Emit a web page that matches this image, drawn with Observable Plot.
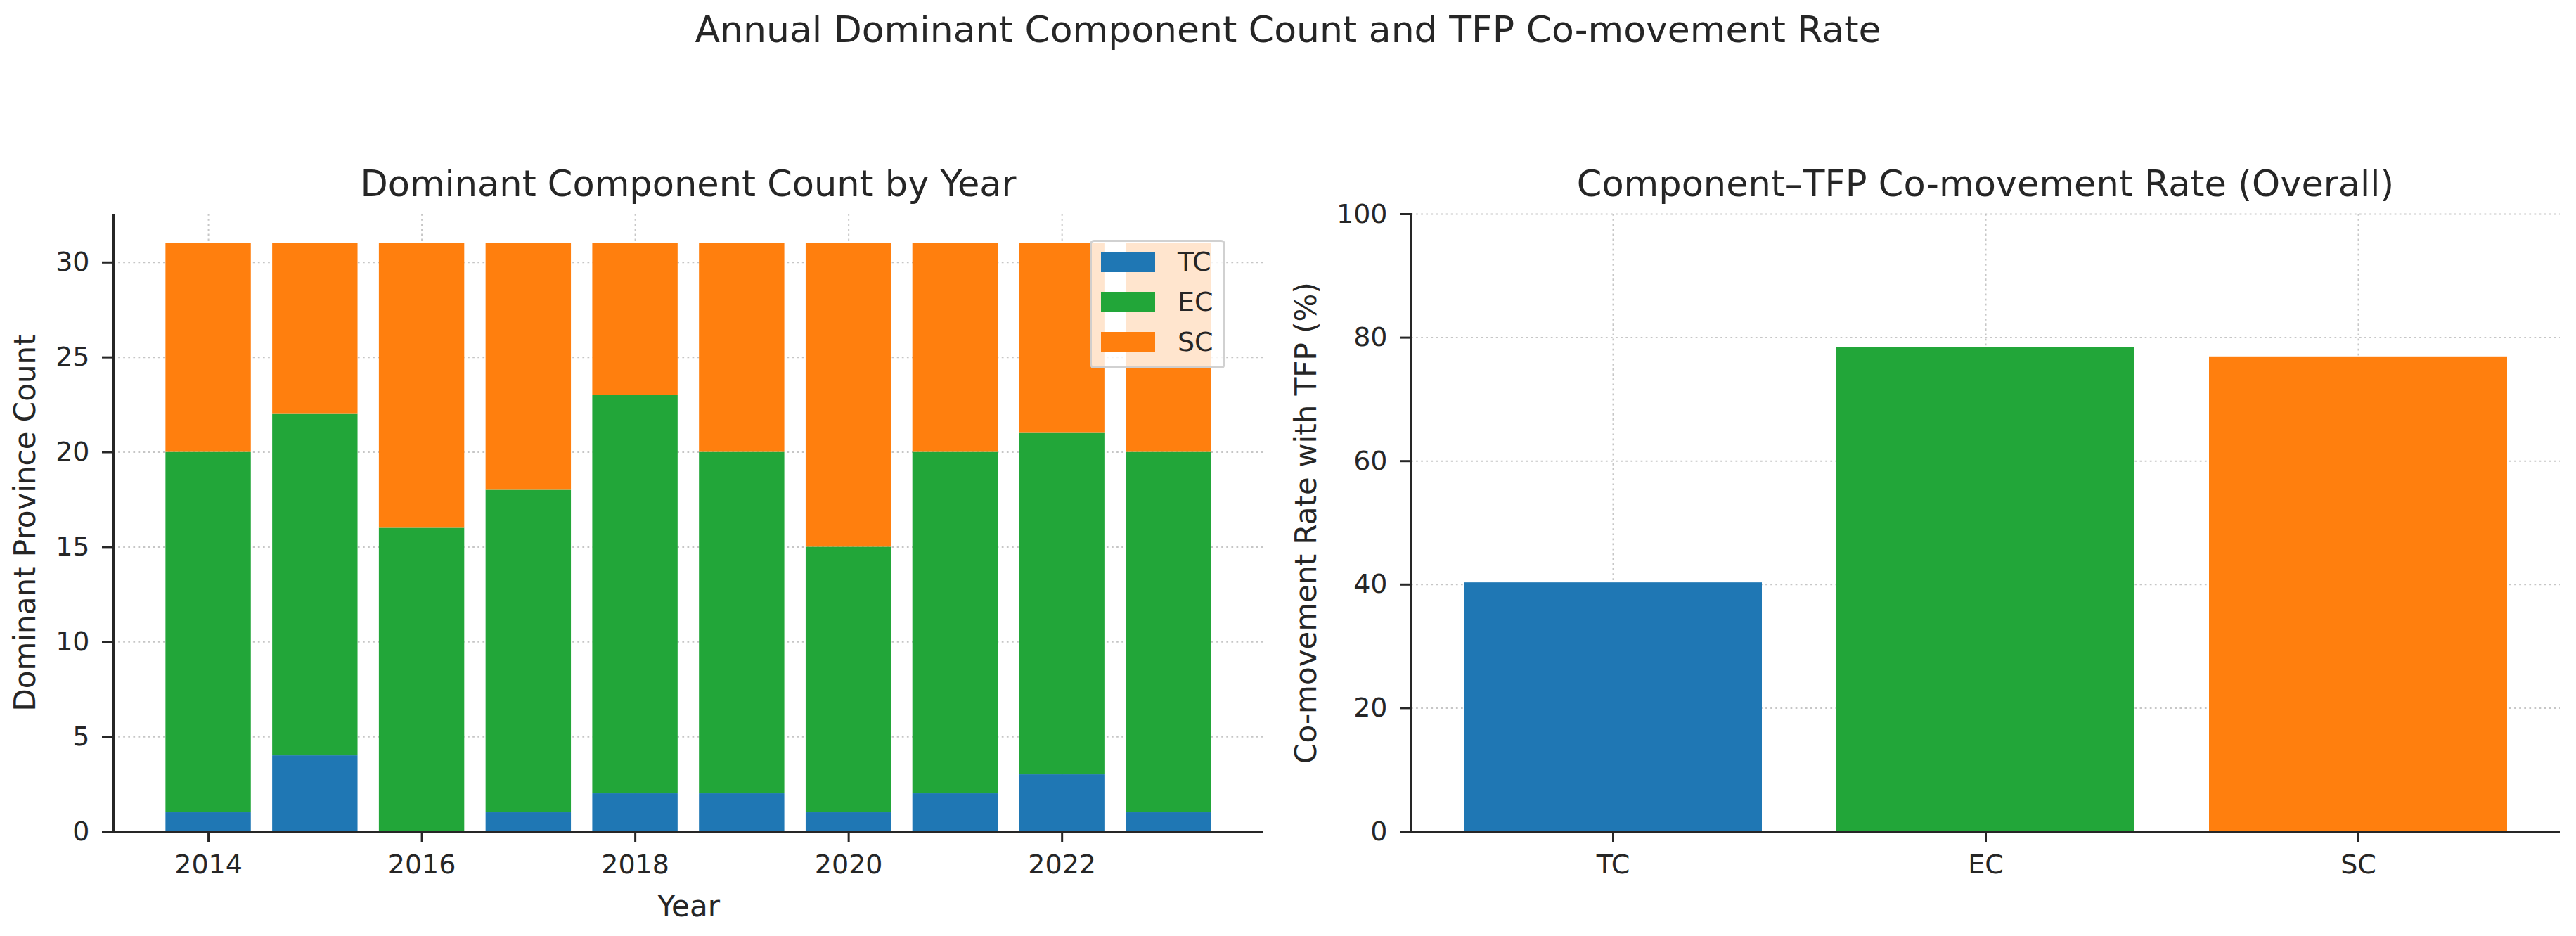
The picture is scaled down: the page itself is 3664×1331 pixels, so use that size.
<!DOCTYPE html>
<html>
<head>
<meta charset="utf-8">
<script src="https://cdn.jsdelivr.net/npm/d3@7"></script>
<script src="https://cdn.jsdelivr.net/npm/@observablehq/plot@0.6"></script>
<style>
  body { margin: 0; background: #fff; font-family: "DejaVu Sans", sans-serif; color: #262626; }
  #fig { position: relative; width: 3664px; height: 1331px; overflow: hidden; }
  .t { position: absolute; white-space: nowrap; transform: translateX(-50%); line-height: 1; }
  #legend { position: absolute; left: 1550px; top: 341px; width: 187px; height: 177px;
    border: 3px solid rgba(204,204,204,0.9); border-radius: 6px; background: rgba(255,255,255,0.8); }
  .item { position: absolute; left: 13px; height: 29px; font-size: 38px; line-height: 29px; }
  .item span { position: absolute; left: 0; top: 0; width: 77px; height: 29px; }
  .item b { position: absolute; left: 109px; top: 0; font-weight: normal; }
</style>
</head>
<body>
<div id="fig">
  <div class="t" style="left:1832px;top:16px;font-size:52px;">Annual Dominant Component Count and TFP Co-movement Rate</div>
  <div class="t" style="left:979px;top:236px;font-size:51px;">Dominant Component Count by Year</div>
  <div class="t" style="left:2824px;top:236px;font-size:51px;">Component–TFP Co-movement Rate (Overall)</div>
  <div id="left" style="position:absolute;left:0;top:290px;"></div>
  <div id="right" style="position:absolute;left:1900px;top:290px;"></div>
  <div id="legend"></div>
</div>
<script>
// datos
const years = [2014, 2015, 2016, 2017, 2018, 2019, 2020, 2021, 2022, 2023]
const components = ["TC", "EC", "SC"]
const tcCounts = [1, 4, 0, 1, 2, 2, 1, 2, 3, 1]
const ecCounts = [19, 18, 16, 17, 21, 18, 14, 18, 18, 19]
const scCounts = [11, 9, 15, 13, 8, 11, 16, 11, 10, 11]
const coMovementRate = [40.3, 78.4, 76.9]
const colors = ["#1f77b4", "#22a639", "#ff7f0e"]
const yearTicks = [2014, 2016, 2018, 2020, 2022]

const ink = "#262626"
const gridStyle = {stroke: "#b8b8b8", strokeOpacity: 0.8, strokeWidth: 2, strokeDasharray: "2.7,4.4"}

// tabla larga para el apilado
const counts = [tcCounts, ecCounts, scCounts]
const table = []
years.forEach((year, i) => {
  components.forEach((c, j) => table.push({year, component: c, count: counts[j][i]}))
})
const rates = components.map((c, i) => ({component: c, rate: coMovementRate[i]}))

// márgenes tipo matplotlib (5%)
const x0 = years[0] - 0.4, x1 = years[years.length - 1] + 0.4
const padX = (x1 - x0) * 0.05
const totals = years.map((_, i) => tcCounts[i] + ecCounts[i] + scCounts[i])
const yMax = d3.max(totals) * 1.05

const axisOpts = {tickSize: 16, tickPadding: 17, strokeWidth: 3, stroke: ink, fill: ink, label: null}

let left = Plot.plot({
  width: 1900,
  height: 1041,
  marginLeft: 161,
  marginRight: 103,
  marginTop: 14,
  marginBottom: 149,
  x: {type: "linear", domain: [x0 - padX, x1 + padX]},
  y: {domain: [0, yMax]},
  color: {domain: components, range: colors},
  style: {fontFamily: "DejaVu Sans", fontSize: "38px", color: ink, background: "transparent", overflow: "visible"},
  marks: [
    Plot.gridX(yearTicks, gridStyle),
    Plot.gridY(d3.range(0, 31, 5), gridStyle),
    Plot.rectY(table, {
      x1: d => d.year - 0.4,
      x2: d => d.year + 0.4,
      y: "count",
      fill: "component"
    }),
    Plot.axisX(yearTicks, {...axisOpts, tickFormat: "d"}),
    Plot.axisY(d3.range(0, 31, 5), {...axisOpts, tickPadding: 18}),
    Plot.ruleY([0], {stroke: ink, strokeWidth: 3}),
    Plot.ruleX([x0 - padX], {stroke: ink, strokeWidth: 3}),
    Plot.text(["Year"], {frameAnchor: "bottom", textAnchor: "middle", lineAnchor: "bottom", dy: 120, fontSize: 42, fill: ink}),
    Plot.text(["Dominant Province Count"], {frameAnchor: "left", textAnchor: "middle", rotate: -90, lineAnchor: "top", dx: -141, fontSize: 42, fill: ink})
  ]
})
d3.select("#left").append(() => left)

let right = Plot.plot({
  width: 1764,
  height: 1041,
  marginLeft: 107,
  marginRight: 23,
  marginTop: 14,
  marginBottom: 149,
  x: {type: "band", domain: components, paddingInner: 0.2, paddingOuter: 0.14},
  y: {domain: [0, 100]},
  color: {domain: components, range: colors},
  style: {fontFamily: "DejaVu Sans", fontSize: "38px", color: ink, background: "transparent", overflow: "visible"},
  marks: [
    Plot.gridX(gridStyle),
    Plot.gridY(d3.range(0, 101, 20), gridStyle),
    Plot.barY(rates, {x: "component", y: "rate", fill: "component"}),
    Plot.axisX(axisOpts),
    Plot.axisY(d3.range(0, 101, 20), {...axisOpts, tickPadding: 18}),
    Plot.ruleY([0], {stroke: ink, strokeWidth: 3}),
    Plot.frame({anchor: "left", stroke: ink, strokeWidth: 3}),
    Plot.text(["Co-movement Rate with TFP (%)"], {frameAnchor: "left", textAnchor: "middle", rotate: -90, lineAnchor: "top", dx: -165, fontSize: 42, fill: ink})
  ]
})
d3.select("#right").append(() => right)

// leyenda
const legend = d3.select("#legend")
components.forEach((c, i) => {
  const item = legend.append("div").attr("class", "item").style("top", (14 + i * 57) + "px")
  item.append("span").style("background", colors[i])
  item.append("b").text(c)
})
</script>
</body>
</html>
